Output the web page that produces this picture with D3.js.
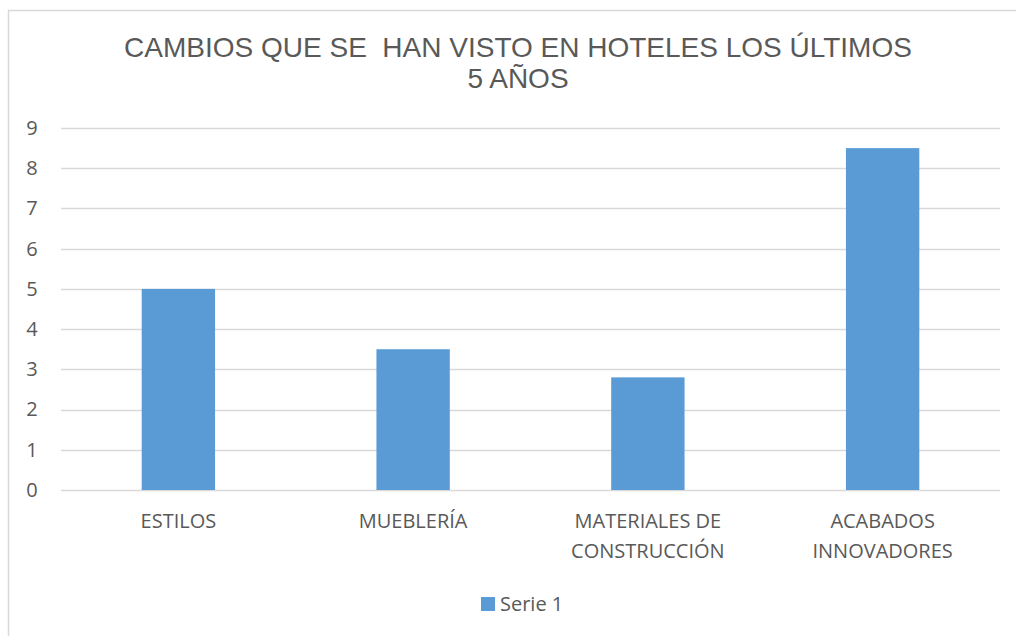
<!DOCTYPE html>
<html><head><meta charset="utf-8">
<script src="https://cdn.jsdelivr.net/npm/d3@7"></script>
<style>body{margin:0;background:#fff}svg{display:block}</style>
</head><body>
<script>
const categories = [["ESTILOS"], ["MUEBLERÍA"], ["MATERIALES DE", "CONSTRUCCIÓN"], ["ACABADOS", "INNOVADORES"]];
const values = [5, 3.5, 2.8, 8.5];
const yTicks = [0,1,2,3,4,5,6,7,8,9];
const titleLines = ["CAMBIOS QUE SE  HAN VISTO EN HOTELES LOS ÚLTIMOS", "5 AÑOS"];
const seriesName = "Serie 1";

(function(){
const W = 1016, H = 636;
const svg = d3.select("body").append("svg").attr("width", W).attr("height", H);
const txt = "#595959", grid = "#d9d9d9", barColor = "#5b9bd5";
const font = "'Open Sans', Calibri, sans-serif";

svg.append("rect").attr("x", 8.5).attr("y", 10.5).attr("width", W + 10).attr("height", H + 10)
  .attr("fill", "#fff").attr("stroke", "#d9d9d9").attr("stroke-width", 1.5);

const pL = 61, pR = 1000, pT = 128, pB = 490;
const x = d3.scaleBand().domain(d3.range(categories.length)).range([pL, pR]).paddingInner(0.6875).paddingOuter(0.34375);
const y = d3.scaleLinear().domain([0, 9]).range([pB, pT]);

svg.append("g").selectAll("line").data(yTicks).join("line")
  .attr("x1", pL).attr("x2", pR)
  .attr("y1", d => Math.round(y(d)) + 0.5).attr("y2", d => Math.round(y(d)) + 0.5)
  .attr("stroke", grid).attr("stroke-width", 1.5);

const yAxis = d3.axisLeft(y).tickValues(yTicks).tickSize(0).tickPadding(0).tickFormat(d3.format("d"));
const yg = svg.append("g").attr("transform", `translate(32,0)`).call(yAxis);
yg.select(".domain").remove();
yg.selectAll("text").attr("fill", txt).style("font-family", font).style("font-size", "20px").attr("text-anchor", "middle").attr("dx", 0);

svg.append("g").selectAll("rect").data(values).join("rect")
  .attr("x", (d, i) => x(i)).attr("width", x.bandwidth())
  .attr("y", d => y(d)).attr("height", d => y(0) - y(d))
  .attr("fill", barColor);

const xg = svg.append("g");
categories.forEach((lines, i) => {
  const cx = x(i) + x.bandwidth() / 2;
  const t = xg.append("text").attr("x", cx).attr("y", 528)
    .attr("text-anchor", "middle").attr("fill", txt)
    .style("font-family", font).style("font-size", "20px");
  lines.forEach((l, j) => t.append("tspan").attr("x", cx).attr("dy", j ? 30 : 0).text(l));
});

const tt = svg.append("text").attr("x", 518).attr("y", 57).attr("text-anchor", "middle")
  .attr("fill", txt).style("white-space", "pre")
  .style("font-family", "'Liberation Sans', Arial, sans-serif").style("font-size", "28px");
titleLines.forEach((l, j) => tt.append("tspan").attr("x", 518).attr("dy", j ? 31 : 0).text(l));

svg.append("rect").attr("x", 481).attr("y", 597).attr("width", 14).attr("height", 14).attr("fill", barColor);
svg.append("text").attr("x", 500).attr("y", 611).attr("fill", txt).style("font-family", font).style("font-size", "20px").text(seriesName);
})();
</script>
</body></html>
